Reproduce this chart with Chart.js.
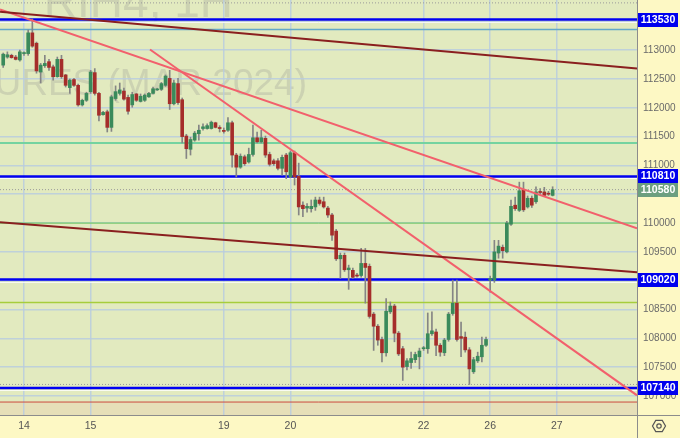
<!DOCTYPE html>
<html>
<head>
<meta charset="utf-8">
<script src="https://cdn.jsdelivr.net/npm/chart.js@4.4.1/dist/chart.umd.min.js"></script>
<style>
  html, body { margin: 0; padding: 0; background: #fdf8c4; }
  #wrap { width: 680px; height: 438px; }
</style>
</head>
<body>
<div id="wrap"><canvas id="c" width="680" height="438"></canvas></div>
<script>
// hourly candles, index 0 = last hours of the 13th, 16 bars per session day
const dayTicks = [5, 21, 53, 69, 101, 117, 133];
const dayLabels = ['14', '15', '19', '20', '22', '26', '27'];
const yTicks = [107000, 107500, 108000, 108500, 109000, 109500, 110000, 110500,
  111000, 111500, 112000, 112500, 113000, 113500];

const opens = [
  112740, 112880, 112910, 112880, 112830, 112940, 112940, 113300, 113120, 112620,
  112730, 112800, 112710, 112540, 112840, 112570, 112350, 112490, 112390, 112050,
  112130, 112280, 112610, 112250, 111880, 111930, 111660, 112160, 112250, 112290,
  112180, 112050, 112240, 112110, 112130, 112190, 112250, 112310, 112320, 112390,
  112510, 112070, 112420, 112140, 111510, 111280, 111440, 111550, 111640, 111640,
  111640, 111740, 111650, 111600, 111610, 111740, 111180, 110970, 111150, 111060,
  111190, 111480, 111410, 111470, 111190, 111080, 111080, 110950, 111180, 110800,
  111220, 110810, 110310, 110260, 110250, 110280, 110400, 110370, 110260, 110140,
  109860, 109380, 109440, 109190, 109180, 109090, 109090, 109300, 109250, 108420,
  108210, 107980, 107750, 108460, 108560, 108090, 107820, 107510, 107580, 107630,
  107680, 107820, 107820, 108080, 108110, 107880, 107750, 107980, 108430, 108610,
  108030, 108020, 107800, 107420, 107610, 107680, 107880, 109010, 109010, 109480,
  109580, 109500, 109980, 110310, 110220, 110580, 110280, 110430, 110370, 110540,
  110540, 110510, 110480
];
const highs = [
  112950, 112970, 112930, 112910, 113000, 112970, 113350, 113540, 113140, 112770,
  112910, 112840, 112740, 112880, 112910, 112580, 112500, 112510, 112410, 112150,
  112270, 112650, 112680, 112270, 111940, 111960, 112220, 112380, 112430, 112340,
  112220, 112270, 112250, 112240, 112240, 112270, 112360, 112340, 112440, 112570,
  112650, 112480, 112510, 112170, 111540, 111490, 111590, 111700, 111720, 111720,
  111770, 111750, 111690, 111650, 111830, 111770, 111210, 111200, 111180, 111300,
  111700, 111580, 111610, 111510, 111230, 111110, 111120, 111180, 111210, 111250,
  111250, 111040, 110370, 110340, 110400, 110450, 110450, 110450, 110290, 110170,
  109890, 109480, 109480, 109270, 109220, 109130, 109560, 109560, 109290, 108450,
  108240, 108020, 108690, 108630, 108590, 108120, 107860, 107650, 107760, 107760,
  107830, 107860, 108440, 108460, 108160, 107910, 108000, 108450, 109010, 109010,
  108280, 108110, 107840, 107670, 107760, 108020, 108020, 109080, 109700, 109700,
  109620, 110030, 110400, 110450, 110710, 110710, 110470, 110470, 110630, 110600,
  110620, 110550, 110630
];
const lows = [
  112700, 112860, 112860, 112830, 112810, 112910, 112910, 113050, 112600, 112430,
  112700, 112650, 112480, 112530, 112510, 112360, 112250, 112370, 112030, 112030,
  112110, 112250, 112220, 111770, 111870, 111580, 111590, 112130, 112220, 112130,
  111890, 112010, 112110, 112100, 112110, 112180, 112240, 112300, 112300, 112370,
  111970, 112050, 112060, 111390, 111120, 111180, 111420, 111440, 111610, 111630,
  111630, 111650, 111580, 111560, 111590, 110970, 110800, 110950, 111000, 111040,
  111160, 111390, 111390, 111140, 110990, 111000, 110920, 110830, 110770, 110780,
  110660, 110140, 110110, 110190, 110190, 110220, 110310, 110260, 110100, 109700,
  109350, 109040, 109160, 108850, 109040, 109060, 109060, 108610, 108350, 107790,
  107880, 107590, 107690, 108430, 107940, 107700, 107270, 107450, 107480, 107580,
  107470, 107790, 107740, 108050, 107700, 107690, 107700, 107950, 108400, 107950,
  107680, 107760, 107200, 107390, 107580, 107590, 107860, 108800, 108970, 109390,
  109390, 109480, 109960, 110220, 110200, 110200, 110260, 110270, 110340, 110500,
  110470, 110480, 110470
];
const closes = [
  112930, 112920, 112870, 112840, 112970, 112950, 113300, 113070, 112640, 112740,
  112770, 112700, 112540, 112840, 112540, 112390, 112480, 112390, 112050, 112130,
  112250, 112620, 112250, 111870, 111920, 111660, 112190, 112280, 112310, 112150,
  111940, 112230, 112130, 112200, 112220, 112250, 112330, 112320, 112420, 112550,
  112070, 112430, 112090, 111500, 111290, 111450, 111560, 111610, 111670, 111690,
  111750, 111660, 111640, 111590, 111740, 111180, 110970, 111160, 111030, 111190,
  111480, 111410, 111480, 111180, 111020, 111030, 110950, 111140, 110890, 111220,
  110800, 110280, 110250, 110290, 110290, 110400, 110340, 110280, 110140, 109790,
  109380, 109440, 109190, 109220, 109060, 109080, 109300, 109230, 108380, 108210,
  107970, 107750, 108470, 108560, 108090, 107730, 107500, 107610, 107650, 107720,
  107780, 107830, 108080, 108130, 107880, 107760, 107970, 108420, 108610, 107980,
  108000, 107800, 107470, 107630, 107690, 107880, 107980, 109040, 109500, 109600,
  109520, 110000, 110290, 110250, 110560, 110230, 110430, 110310, 110540, 110530,
  110480, 110500, 110580
];

// drawn lines: [barIndex, price] at both ends
const upperDownLine = [[-0.77, 113665], [152.27, 112682]];
const lowerDownLine = [[-0.77, 110014], [152.27, 109146]];
const slowFallLine = [[-0.77, 113707], [152.27, 109910]];
const fastFallLine = [[35.27, 113012], [152.27, 107011]];

const blueLevels = [113530, 110810, 109020, 107140];
const lastPrice = 110580;
const dottedLevels = [113820, 110580, 107200];
const steelLevel = 113360;
const tealLevel = 111390;
const greenLevel = 110000;
const oliveLevel = 108620;
const redLevel = 106895;

const X_MIN = -0.77, X_MAX = 152.27;
const Y_MIN = 106670, Y_MAX = 113870;
const FONT = '"Liberation Sans", Arial, sans-serif';

const wickData = highs.map((h, i) => ({ x: i, y: [lows[i], h] }));
const bodyData = opens.map((o, i) => {
  let lo = Math.min(o, closes[i]), hi = Math.max(o, closes[i]);
  if (hi - lo < 18) hi = lo + 18;
  return { x: i, y: [lo, hi] };
});
const bodyColors = opens.map((o, i) => closes[i] >= o ? '#3a8a5b' : '#a52d2a');

function seg(pts) { return pts.map(p => ({ x: p[0], y: p[1] })); }
function level(v) { return [{ x: X_MIN, y: v }, { x: X_MAX, y: v }]; }
function lineDs(data, color, width, order, dash) {
  return { type: 'line', data, borderColor: color, borderWidth: width, borderDash: dash || [],
    pointRadius: 0, fill: false, tension: 0, order };
}

const datasets = [
  { type: 'bar', data: bodyData, backgroundColor: bodyColors, barThickness: 3, grouped: false, order: 3 },
  { type: 'bar', data: wickData, backgroundColor: '#858585', barThickness: 1, grouped: false, order: 4 },
  lineDs(level(steelLevel), '#62a9c9', 1.5, 6),
  lineDs(level(tealLevel), '#74d3a0', 2, 6),
  lineDs(level(greenLevel), '#63c94a', 1, 6),
  lineDs(level(oliveLevel), '#a6cd3c', 1.5, 6),
  lineDs(level(redLevel), '#cc4a3e', 1, 6),
  ...dottedLevels.map(v => lineDs(level(v), '#9a9a9a', 1, 6, [1, 2])),
  ...blueLevels.map(v => lineDs(level(v), '#0000f2', 2.5, 5)),
  lineDs(seg(upperDownLine), '#8a1f1f', 2, 1),
  lineDs(seg(lowerDownLine), '#8a1f1f', 2, 1),
  lineDs(seg(slowFallLine), '#f2606c', 2, 1),
  lineDs(seg(fastFallLine), '#f2606c', 2, 1)
];

const decor = {
  id: 'decor',
  beforeDraw(chart) {
    const { ctx, chartArea: a, scales } = chart;
    ctx.save();
    ctx.fillStyle = '#fdf8c4';
    ctx.fillRect(0, 0, chart.width, chart.height);
    ctx.fillStyle = '#e2eabf';
    ctx.fillRect(a.left, a.top, a.right - a.left, a.bottom - a.top);
    const yb = scales.y.getPixelForValue(redLevel);
    ctx.fillStyle = '#e6dfb8';
    ctx.fillRect(a.left, yb, a.right - a.left, a.bottom - yb);
    // watermark
    ctx.beginPath();
    ctx.rect(a.left, a.top, a.right - a.left, a.bottom - a.top);
    ctx.clip();
    ctx.fillStyle = 'rgba(140,140,140,0.25)';
    ctx.textAlign = 'right';
    ctx.textBaseline = 'alphabetic';
    ctx.font = '46px ' + FONT;
    ctx.fillText('RIH4, 1H', 233, 17);
    ctx.font = '37px ' + FONT;
    ctx.fillText('FUTURES (MAR 2024)', 307, 95);
    ctx.restore();
  },
  beforeDatasetsDraw(chart) {
    // pale highlight just under each blue level
    const { ctx, chartArea: a, scales } = chart;
    ctx.save();
    ctx.strokeStyle = 'rgba(255,255,255,0.8)';
    ctx.lineWidth = 1;
    ctx.beginPath();
    blueLevels.forEach(v => {
      const py = Math.round(scales.y.getPixelForValue(v)) + 2.5;
      ctx.moveTo(a.left, py);
      ctx.lineTo(a.right, py);
    });
    ctx.stroke();
    ctx.restore();
  },
  afterDraw(chart) {
    const { ctx, chartArea: a, scales } = chart;
    const y = scales.y;
    ctx.save();
    ctx.strokeStyle = '#8c8c8c';
    ctx.lineWidth = 1;
    ctx.beginPath();
    ctx.moveTo(a.right + 0.5, 0);
    ctx.lineTo(a.right + 0.5, chart.height);
    ctx.moveTo(0, a.bottom + 0.5);
    ctx.lineTo(chart.width, a.bottom + 0.5);
    ctx.stroke();

    ctx.font = 'bold 10.5px ' + FONT;
    ctx.textAlign = 'center';
    ctx.textBaseline = 'middle';
    const box = (v, color) => {
      const py = Math.round(y.getPixelForValue(v));
      ctx.fillStyle = color;
      ctx.fillRect(a.right + 1, py - 7, 40, 14);
      ctx.fillStyle = '#ffffff';
      ctx.fillText(String(v), a.right + 21, py + 0.5);
    };
    blueLevels.forEach(v => box(v, '#0000ee'));
    box(lastPrice, '#6c9f80');

    // settings icon
    const cx = 659, cy = 426, r = 6.5;
    ctx.strokeStyle = '#555';
    ctx.lineWidth = 1.2;
    ctx.beginPath();
    for (let k = 0; k < 6; k++) {
      const ang = Math.PI / 3 * k;
      const px = cx + r * Math.cos(ang), py = cy + r * Math.sin(ang);
      if (k === 0) ctx.moveTo(px, py); else ctx.lineTo(px, py);
    }
    ctx.closePath();
    ctx.stroke();
    ctx.beginPath();
    ctx.arc(cx, cy, 2.2, 0, Math.PI * 2);
    ctx.stroke();
    ctx.restore();
  }
};

const gridColor = 'rgba(185,205,222,0.85)';

new Chart(document.getElementById('c'), {
  type: 'bar',
  data: { datasets },
  options: {
    responsive: false,
    animation: false,
    events: [],
    devicePixelRatio: 1,
    layout: { padding: 0 },
    plugins: { legend: { display: false }, tooltip: { enabled: false } },
    scales: {
      x: {
        type: 'linear', min: X_MIN, max: X_MAX, offset: false,
        afterBuildTicks: s => { s.ticks = dayTicks.map(v => ({ value: v })); },
        afterFit: s => { s.height = 23; s.paddingLeft = 0; s.paddingRight = 0; },
        ticks: {
          autoSkip: false, maxRotation: 0, padding: 5, color: '#555',
          font: { size: 10.5, family: FONT },
          callback: v => dayLabels[dayTicks.indexOf(v)]
        },
        grid: { color: gridColor, lineWidth: 1.5, drawTicks: false, offset: false },
        border: { display: false }
      },
      y: {
        position: 'right', min: Y_MIN, max: Y_MAX,
        afterBuildTicks: s => { s.ticks = yTicks.map(v => ({ value: v })); },
        afterFit: s => { s.width = 43; s.paddingTop = 0; s.paddingBottom = 0; },
        ticks: {
          padding: 6, color: '#6a6a6a',
          font: { size: 10, family: FONT },
          callback: v => String(v)
        },
        grid: { color: gridColor, lineWidth: 1.5, drawTicks: false, offset: false },
        border: { display: false }
      }
    }
  },
  plugins: [decor]
});
</script>
</body>
</html>
